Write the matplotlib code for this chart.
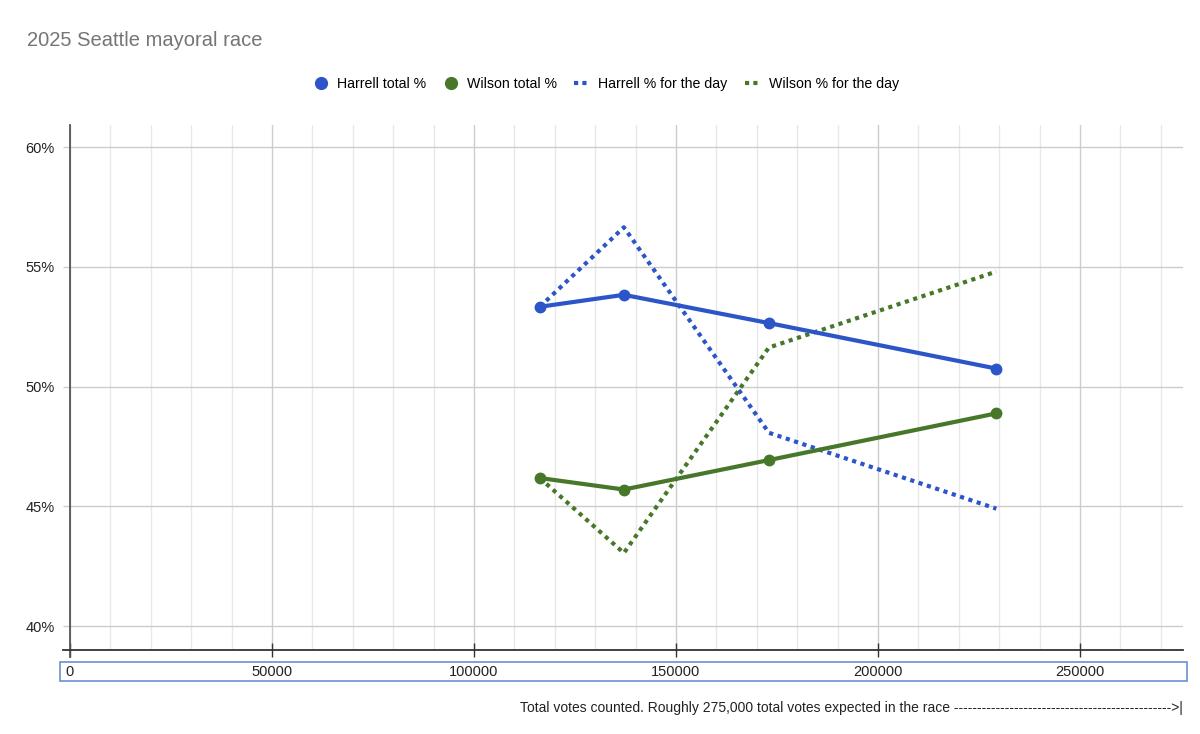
import matplotlib
matplotlib.use("Agg")
import matplotlib.pyplot as plt
from matplotlib.lines import Line2D
from matplotlib.patches import Rectangle
from matplotlib.ticker import MultipleLocator, FuncFormatter

plt.rcParams['font.family'] = ['Liberation Sans', 'DejaVu Sans']

# votes counted at each drop, and percentages
votes = [116300, 137100, 173000, 229300]
harrell_total = [53.33, 53.83, 52.65, 50.75]
wilson_total = [46.18, 45.70, 46.93, 48.88]
harrell_day = [53.33, 56.65, 48.07, 44.90]
wilson_day = [46.18, 43.05, 51.63, 54.80]

blue = '#2b55c8'
green = '#47782a'

fig = plt.figure(figsize=(12, 7.34), dpi=100)
ax = fig.add_axes([70/1200, 1 - 650/734, (1183-70)/1200, (650-125)/734])

ax.plot(votes, harrell_day, color=blue, lw=3, linestyle=(0, (1, 1.1)), dash_capstyle='butt', zorder=3)
ax.plot(votes, wilson_day, color=green, lw=3, linestyle=(0, (1, 1.1)), dash_capstyle='butt', zorder=3)
ax.plot(votes, harrell_total, color=blue, lw=3, marker='o', markersize=7.5, zorder=4)
ax.plot(votes, wilson_total, color=green, lw=3, marker='o', markersize=7.5, zorder=4)

ax.set_xlim(0, 275500)
ax.set_ylim(39.0, 60.92)

ax.xaxis.set_major_locator(MultipleLocator(50000))
ax.xaxis.set_minor_locator(MultipleLocator(10000))
ax.yaxis.set_major_locator(MultipleLocator(5))
ax.yaxis.set_major_formatter(FuncFormatter(lambda v, p: f"{v:.0f}%"))

ax.grid(True, which='major', axis='both', color='#cccccc', lw=1)
ax.grid(True, which='minor', axis='x', color='#e8e8e8', lw=1)
ax.set_axisbelow(True)

for s in ['top', 'right']:
    ax.spines[s].set_visible(False)
ax.spines['left'].set_color('#555555')
ax.spines['bottom'].set_color('#333333')
ax.spines['left'].set_linewidth(1.3)
ax.spines['bottom'].set_linewidth(1.3)

ax.tick_params(axis='x', which='major', direction='inout', length=10, width=1, color='#333333',
               labelsize=10.5, pad=6, labelcolor='#222222')
ax.tick_params(axis='x', which='minor', length=0)
ax.tick_params(axis='y', which='major', direction='out', length=5, width=1, color='#cccccc',
               labelsize=10.5, pad=6, labelcolor='#222222')

# small axis overhangs
ax.add_line(Line2D([-7/1113, 0], [0, 0], transform=ax.transAxes, color='#333333', lw=1.3, clip_on=False))
ax.add_line(Line2D([0, 0], [-7/525, 0], transform=ax.transAxes, color='#555555', lw=1.3, clip_on=False))

# box around x tick labels
fig.patches.append(Rectangle((60/1200, 1 - 681/734), (1187-60)/1200, (681-662)/734,
                             transform=fig.transFigure, fill=False, edgecolor='#6d8fd6', lw=1.2))

fig.text(27/1200, 1 - 40/734, "2025 Seattle mayoral race", fontsize=14.5, color='#757575',
         ha='left', va='center')

handles = [
    Line2D([], [], color=blue, marker='o', linestyle='none', markersize=8.5),
    Line2D([], [], color=green, marker='o', linestyle='none', markersize=8.5),
    Line2D([], [], color=blue, lw=3, linestyle=(0, (1, 1)), dash_capstyle='butt'),
    Line2D([], [], color=green, lw=3, linestyle=(0, (1, 1)), dash_capstyle='butt'),
]
labels = ["Harrell total %", "Wilson total %", "Harrell % for the day", "Wilson % for the day"]
fig.legend(handles, labels, loc='center', bbox_to_anchor=(606/1200, 1 - 84/734), ncol=4,
           frameon=False, fontsize=10.2, handlelength=1.1, handletextpad=0.6, columnspacing=1.2)

fig.text(1183/1200, 1 - 708/734,
         "Total votes counted. Roughly 275,000 total votes expected in the race " + "-" * 47 + ">|",
         fontsize=10, color='#222222', ha='right', va='center')

fig.savefig("out.png", dpi=100, facecolor='white')
